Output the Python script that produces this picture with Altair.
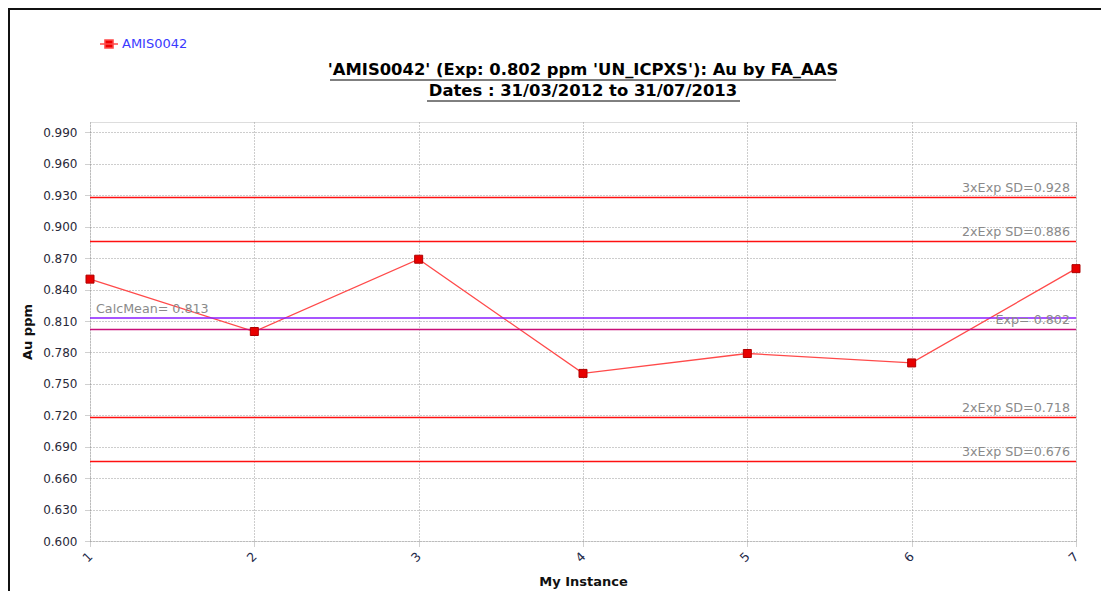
import altair as alt
import pandas as pd

# ---- data ----
instances = [1, 2, 3, 4, 5, 6, 7]
au_values = [0.850, 0.800, 0.869, 0.760, 0.779, 0.770, 0.860]
series_name = "AMIS0042"

sd_values = [0.928, 0.886, 0.718, 0.676]
sd_labels = ["3xExp SD=0.928", "2xExp SD=0.886", "2xExp SD=0.718", "3xExp SD=0.676"]
exp_values = [0.802]
exp_labels = ["Exp= 0.802"]
mean_values = [0.813]
mean_labels = ["CalcMean= 0.813"]

y_ticks = [0.600, 0.630, 0.660, 0.690, 0.720, 0.750, 0.780, 0.810,
           0.840, 0.870, 0.900, 0.930, 0.960, 0.990]
x_ticks = [1, 2, 3, 4, 5, 6, 7]

title_line1 = "'AMIS0042' (Exp: 0.802 ppm 'UN_ICPXS'): Au by FA_AAS"
title_line2 = "Dates : 31/03/2012 to 31/07/2013"
x_title = "My Instance"
y_title = "Au ppm"

# ---- tables ----
series_df = pd.DataFrame({"instance": instances, "value": au_values,
                          "series": [series_name] * len(instances)})
sd_df = pd.DataFrame({"value": sd_values, "label": sd_labels})
exp_df = pd.DataFrame({"value": exp_values, "label": exp_labels})
mean_df = pd.DataFrame({"value": mean_values, "label": mean_labels})
one = pd.DataFrame({"k": [0]})

W, H = 986, 419
FONT = "DejaVu Sans"

xscale = alt.Scale(domain=[1, 7], nice=False, zero=False)
yscale = alt.Scale(domain=[0.6, 1.0], nice=False, zero=False)

x_axis = alt.Axis(values=x_ticks, format="d", title=x_title, labelAngle=315,
                  labelAlign="right", labelBaseline="middle", labelOverlap=False,
                  labelFontSize=12.5, labelFont=FONT, labelColor="#1f2a4a",
                  labelPadding=7, tickSize=6, tickColor="#a0a0a0", tickDash=[1, 1],
                  grid=True, gridColor="#9a9a9a", gridDash=[1, 2], domain=False,
                  titleFont=FONT, titleFontSize=13, titleFontWeight="bold",
                  titleColor="#111111", titleBaseline="middle", titleY=40)
y_axis = alt.Axis(values=y_ticks, format=".3f", title=y_title,
                  labelFontSize=12, labelFont=FONT, labelColor="#2a2a3a",
                  labelPadding=7, tickSize=6, tickColor="#a0a0a0", tickDash=[1, 1],
                  grid=True, gridColor="#9a9a9a", gridDash=[1, 2], domain=False,
                  titleFont=FONT, titleFontSize=13, titleFontWeight="bold",
                  titleColor="#111111", titlePadding=8)

X = alt.X("instance:Q", scale=xscale, axis=x_axis)
Y = alt.Y("value:Q", scale=yscale, axis=y_axis)

sd_rules = alt.Chart(sd_df).mark_rule(color="#ff1010", strokeWidth=1.5).encode(y=Y)
exp_rule = alt.Chart(exp_df).mark_rule(color="#c8107a", strokeWidth=1.5).encode(y=Y)
mean_rule = alt.Chart(mean_df).mark_rule(color="#8a1cff", strokeWidth=1.5).encode(y=Y)

label_style = dict(fontSize=12.7, font=FONT, color="#8a8a8a", baseline="bottom", dy=-2)
sd_text = alt.Chart(sd_df).mark_text(align="right", **label_style).encode(
    x=alt.value(W - 6), y=Y, text="label:N")
exp_text = alt.Chart(exp_df).mark_text(align="right", **label_style).encode(
    x=alt.value(W - 6), y=Y, text="label:N")
mean_text = alt.Chart(mean_df).mark_text(align="left", **label_style).encode(
    x=alt.value(6), y=Y, text="label:N")

legend = alt.Legend(title=None, orient="none", legendX=9, legendY=-88, padding=0,
                    symbolType="M-1,0L1,0M-0.45,-0.45L0.45,-0.45L0.45,0.45L-0.45,0.45Z",
                    symbolSize=324, symbolFillColor="#ee0000", symbolStrokeColor="#ff3a3a",
                    symbolStrokeWidth=1.5, labelColor="#3a3aff", labelFontSize=13,
                    labelFont=FONT, labelOffset=3)

line = alt.Chart(series_df).mark_line(strokeWidth=1.3).encode(
    x=X, y=Y,
    color=alt.Color("series:N", scale=alt.Scale(domain=[series_name], range=["#ff4a4a"]),
                    legend=legend))
points = alt.Chart(series_df).mark_square(size=64, fill="#e80000", stroke="#b00000",
                                          strokeWidth=1, opacity=1).encode(x=X, y=Y)

# title lines (as text), decorative underlines and outer frame
title_style = dict(font=FONT, fontSize=16.4, fontWeight="bold", color="black",
                   align="center", baseline="middle")
t1 = alt.Chart(one).mark_text(text=title_line1, **title_style).encode(
    x=alt.value(W / 2), y=alt.value(-52))
t2 = alt.Chart(one).mark_text(text=title_line2, **title_style).encode(
    x=alt.value(W / 2), y=alt.value(-31))
ul1 = alt.Chart(one).mark_rule(color="black", strokeWidth=1).encode(
    x=alt.value(240), x2=alt.value(746), y=alt.value(-42))
ul2 = alt.Chart(one).mark_rule(color="black", strokeWidth=1).encode(
    x=alt.value(337), x2=alt.value(650), y=alt.value(-21))
frame_left = alt.Chart(one).mark_rule(color="#111111", strokeWidth=2).encode(
    x=alt.value(-81), y=alt.value(-114), y2=alt.value(H + 60))
frame_top = alt.Chart(one).mark_rule(color="#111111", strokeWidth=2).encode(
    x=alt.value(-82), x2=alt.value(W + 40), y=alt.value(-113))

chart = alt.layer(
    line, sd_rules, exp_rule, mean_rule, sd_text, exp_text, mean_text, points,
    t1, t2, ul1, ul2, frame_left, frame_top
).properties(
    width=W, height=H,
    autosize="none",
    padding={"left": 82, "top": 114, "right": 25, "bottom": 50},
).configure_view(stroke="#b4b4b4", strokeWidth=2).configure(background="white")

chart.save("out.html", embed_options={"renderer": "svg", "actions": False})
